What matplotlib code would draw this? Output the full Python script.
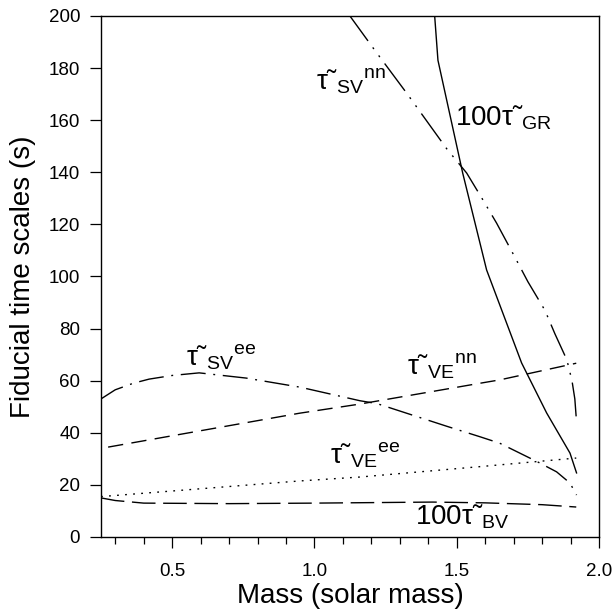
import matplotlib
matplotlib.use("Agg")
import matplotlib.pyplot as plt
from matplotlib.ticker import MultipleLocator, FixedLocator

plt.rcParams['font.family'] = ['Liberation Sans', 'DejaVu Sans']
plt.rcParams['mathtext.fontset'] = 'custom'
plt.rcParams['mathtext.rm'] = 'Liberation Sans'
plt.rcParams['mathtext.it'] = 'Liberation Sans'

# --- DATA ---
gr_mass = [1.4225, 1.434, 1.521, 1.605, 1.728, 1.816, 1.898, 1.921]
gr_time = [200, 183, 139.7, 102.5, 66.8, 47.6, 32.2, 24.6]

svnn_mass = [1.118, 1.211, 1.324, 1.465, 1.535, 1.592, 1.64, 1.704, 1.75, 1.81, 1.845, 1.887, 1.905, 1.915, 1.92]
svnn_time = [201, 187, 170.4, 149, 139.7, 129.4, 120.5, 107.5, 98, 87, 78, 68, 60, 53, 45.7]

svee_mass = [0.25, 0.3, 0.363, 0.419, 0.5, 0.595, 0.76, 0.95, 1.16, 1.22, 1.465, 1.581, 1.651, 1.792, 1.851, 1.898, 1.921]
svee_time = [53, 56.5, 59, 60.6, 62, 63, 61, 57.5, 52.3, 51.2, 42.5, 38.5, 36, 28.4, 25, 20.7, 16.1]

venn_mass = [0.275, 0.947, 1.158, 1.581, 1.651, 1.92]
venn_time = [34.5, 47.5, 51, 59, 60.3, 66.7]

veee_mass = [0.25, 0.947, 1.158, 1.581, 1.92]
veee_time = [15.5, 21.5, 23, 27, 30.3]

bv_mass = [0.25, 0.3, 0.4, 0.7, 1.0, 1.415, 1.6, 1.8, 1.92]
bv_time = [15, 14, 13, 12.8, 13, 13.4, 13.1, 12.4, 11.5]

labels = ['$\\mathrm{\u03c4\u02dc}_{\\mathrm{SV}}{}^{\\mathrm{nn}}$',
          '$\\mathrm{100\u03c4\u02dc}_{\\mathrm{GR}}$',
          '$\\mathrm{\u03c4\u02dc}_{\\mathrm{SV}}{}^{\\mathrm{ee}}$',
          '$\\mathrm{\u03c4\u02dc}_{\\mathrm{VE}}{}^{\\mathrm{nn}}$',
          '$\\mathrm{\u03c4\u02dc}_{\\mathrm{VE}}{}^{\\mathrm{ee}}$',
          '$\\mathrm{100\u03c4\u02dc}_{\\mathrm{BV}}$']
label_x = [1.007, 1.493, 0.549, 1.327, 1.053, 1.352]
label_y = [171.6, 158, 66, 62.2, 28.4, 4.6]

fig = plt.figure(figsize=(6.14, 6.10), dpi=100)
ax = fig.add_axes([0.1645, 0.1197, 0.8111, 0.8541])

lw = 1.0
ax.plot(gr_mass, gr_time, color='black', lw=lw, linestyle='-')
ax.plot(svnn_mass, svnn_time, color='black', lw=lw,
        linestyle=(0, (24.5, 5.8, 1.4, 5.8, 1.4, 5.8)))
ax.plot(svee_mass, svee_time, color='black', lw=lw,
        linestyle=(0, (18, 5.5, 1.4, 5.5)))
ax.plot(venn_mass, venn_time, color='black', lw=lw,
        linestyle=(0, (11, 6)))
ax.plot(veee_mass, veee_time, color='black', lw=lw,
        linestyle=(0, (1.3, 4.5)))
ax.plot(bv_mass, bv_time, color='black', lw=lw,
        linestyle=(0, (17, 5.5)))

for txt, lx, ly in zip(labels, label_x, label_y):
    ax.text(lx, ly, txt, fontsize=20, ha='left', va='baseline')

ax.set_xlim(0.25, 2.0)
ax.set_ylim(0, 200)
ax.xaxis.set_major_locator(FixedLocator([0.5, 1.0, 1.5, 2.0]))
ax.xaxis.set_minor_locator(FixedLocator([0.3, 0.4, 0.6, 0.7, 0.8, 0.9, 1.1, 1.2,
                                         1.3, 1.4, 1.6, 1.7, 1.8, 1.9]))
ax.yaxis.set_major_locator(MultipleLocator(20))
ax.set_xticklabels(['0.5', '1.0', '1.5', '2.0'])

ax.tick_params(which='both', direction='out', top=False, right=False,
               labelsize=13.5, width=0.9, color='black')
ax.tick_params(axis='x', which='major', length=8, pad=11)
ax.tick_params(axis='x', which='minor', length=5)
ax.tick_params(axis='y', which='major', length=8, pad=7)
for sp in ax.spines.values():
    sp.set_linewidth(1.0)

ax.set_xlabel('Mass (solar mass)', fontsize=20, labelpad=2)
ax.set_ylabel('Fiducial time scales (s)', fontsize=20, labelpad=9)

fig.savefig('out.png', dpi=100)
